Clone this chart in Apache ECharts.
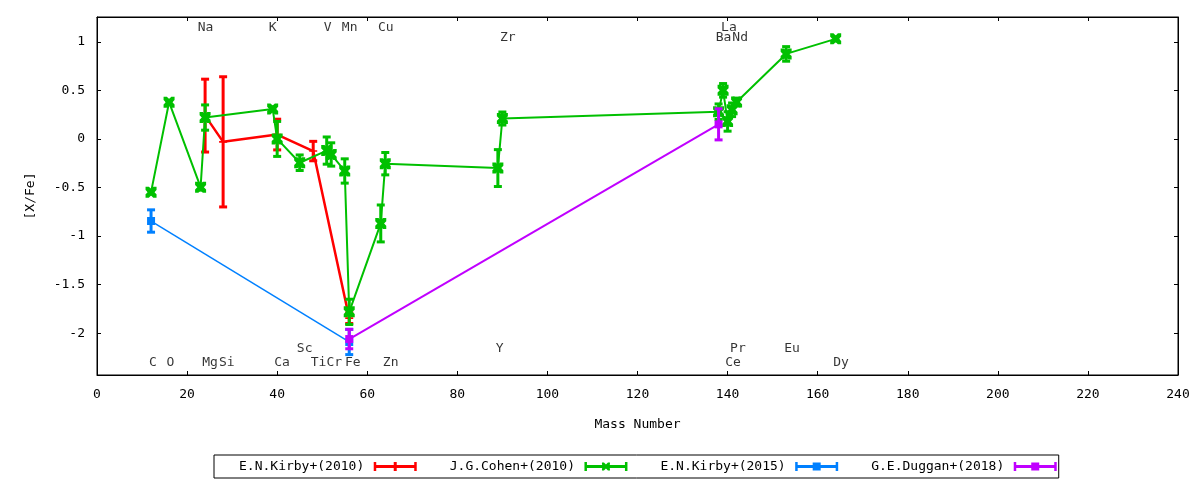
<!DOCTYPE html>
<html>
<head>
<meta charset="utf-8">
<script src="https://cdn.jsdelivr.net/npm/echarts@6/dist/echarts.min.js"></script>
<style>
html,body{margin:0;padding:0;background:#fff;}
#chart{width:1200px;height:480px;}
</style>
</head>
<body>
<div id="chart"></div>
<script>
// ---------- data ----------
const seriesNames = ['E.N.Kirby+(2010)', 'J.G.Cohen+(2010)', 'E.N.Kirby+(2015)', 'G.E.Duggan+(2018)'];

// E.N.Kirby+(2010): Mg, Si, Ca, Ti, Fe
const kirby10X   = [24, 28, 40, 48, 56];
const kirby10Y   = [0.24, -0.03, 0.045, -0.125, -1.845];
const kirby10Err = [0.375, 0.67, 0.158, 0.10, 0.055];

// J.G.Cohen+(2010): C O Na Mg K Ca Sc V Cr Mn Fe Cu Zn Y Zr Ba La Ce Pr Nd Eu Dy
const cohenX   = [12, 16, 23, 24, 39, 40, 45, 51, 52, 55, 56, 63, 64, 89, 90, 138, 139, 140, 141, 142, 153, 164];
const cohenY   = [-0.548, 0.378, -0.497, 0.22, 0.309, 0.0, -0.245, -0.12, -0.16, -0.33, -1.78, -0.87, -0.255, -0.30, 0.21, 0.28, 0.50, 0.18, 0.30, 0.38, 0.875, 1.03];
const cohenErr = [0.02, 0.02, 0.03, 0.13, 0.02, 0.18, 0.08, 0.14, 0.12, 0.125, 0.13, 0.19, 0.115, 0.19, 0.067, 0.08, 0.07, 0.10, 0.07, 0.04, 0.075, 0.02];

// E.N.Kirby+(2015): C, Fe
const kirby15X   = [12, 56];
const kirby15Y   = [-0.845, -2.09];
const kirby15Err = [0.115, 0.13];

// G.E.Duggan+(2018): Fe, Ba
const dugganX   = [56, 138];
const dugganY   = [-2.06, 0.15];
const dugganErr = [0.10, 0.16];

// element labels
const elemNames = ['Na','K','V','Mn','Cu','La', 'Zr','Ba','Nd', 'Sc','Y','Pr','Eu',
                   'C','O','Mg','Si','Ca','Ti','Cr','Fe','Zn','Ce','Dy'];
const elemX = [24.1, 39, 51.2, 56.1, 64.1, 140.3, 91.2, 139.1, 142.8, 46.1, 89.4, 142.3, 154.3,
               12.4, 16.3, 25.1, 28.8, 41.1, 49.2, 52.7, 56.8, 65.2, 141.2, 165.2];
const elemY = [1.15, 1.15, 1.15, 1.15, 1.15, 1.15, 1.04, 1.04, 1.04, -2.16, -2.16, -2.16, -2.16,
               -2.305, -2.305, -2.305, -2.305, -2.305, -2.305, -2.305, -2.305, -2.305, -2.305, -2.305];

const yTicks = [-2, -1.5, -1, -0.5, 0, 0.5, 1];

// ---------- style ----------
const FONT = 'DejaVu Sans Mono';
const colors = ['#ff0000', '#00c000', '#0080ff', '#c000ff'];
const lineWidths = [2.5, 2, 1.5, 2];
const markerPlus = 'path://M4 0H6V10H4Z M0 4H10V6H0Z';
const markerX = 'path://M0 0H3L5 2L7 0H10V3L8 5L10 7V10H7L5 8L3 10H0V7L2 5L0 3Z';
const symbols = [markerPlus, markerX, 'rect', 'rect'];
const symbolSizes = [8, 11, 8, 8];

const iconBase = 'M0 6H86V12H0Z M0 0H5V18H0Z M81 0H86V18H81Z ';
const legendIcons = [
  'path://' + iconBase + 'M40 0H46V18H40Z',
  'path://' + iconBase + 'M35 1H39L43 5L47 1H51V5L47 9L51 13V17H47L43 13L39 17H35V13L39 9L35 5Z',
  'path://' + iconBase + 'M35 1H51V17H35Z',
  'path://' + iconBase + 'M35 1H51V17H35Z'
];

function zip3(xs, ys, es) { return xs.map((x, i) => [x, ys[i], es[i]]); }
const sets = [
  zip3(kirby10X, kirby10Y, kirby10Err),
  zip3(cohenX, cohenY, cohenErr),
  zip3(kirby15X, kirby15Y, kirby15Err),
  zip3(dugganX, dugganY, dugganErr)
];

function makeErrRender(color) {
  return function (params, api) {
    const x = api.value(0), y = api.value(1), e = api.value(2);
    const t = api.coord([x, y + e]);
    const b = api.coord([x, y - e]);
    const hw = 4;
    const st = { stroke: color, lineWidth: 3 };
    return {
      type: 'group',
      children: [
        { type: 'line', shape: { x1: t[0], y1: t[1], x2: b[0], y2: b[1] }, style: st },
        { type: 'line', shape: { x1: t[0] - hw, y1: t[1], x2: t[0] + hw, y2: t[1] }, style: st },
        { type: 'line', shape: { x1: b[0] - hw, y1: b[1], x2: b[0] + hw, y2: b[1] }, style: st }
      ]
    };
  };
}

const series = [];
sets.forEach((data, i) => {
  series.push({
    name: seriesNames[i],
    type: 'custom',
    renderItem: makeErrRender(colors[i]),
    data: data,
    encode: { x: 0, y: 1 },
    z: 2 + i * 2,
    silent: true,
    itemStyle: { color: colors[i] }
  });
  series.push({
    name: seriesNames[i],
    type: 'line',
    data: data.map(d => [d[0], d[1]]),
    symbol: symbols[i],
    symbolSize: symbolSizes[i],
    showSymbol: true,
    showAllSymbol: true,
    lineStyle: { color: colors[i], width: lineWidths[i] },
    itemStyle: { color: colors[i], borderWidth: 0 },
    z: 3 + i * 2,
    silent: true
  });
});

series.push({
  type: 'scatter',
  name: 'elements',
  data: elemNames.map((n, i) => ({ name: n, value: [elemX[i], elemY[i]] })),
  symbolSize: 0,
  silent: true,
  z: 20,
  label: {
    show: true,
    position: 'inside',
    formatter: p => p.name,
    color: '#000',
    fontFamily: FONT,
    fontSize: 13,
    align: 'center',
    verticalAlign: 'middle'
  }
});

const axisTextStyle = { color: '#000', fontFamily: FONT, fontSize: 13 };
const axLine = { show: true, onZero: false, lineStyle: { color: '#000', width: 1 } };

const option = {
  animation: false,
  backgroundColor: '#fff',
  grid: { left: 97, right: 22, top: 17, bottom: 105, show: true, borderColor: '#000', borderWidth: 1, containLabel: false },
  legend: {
    data: seriesNames.map((n, i) => ({ name: n, icon: legendIcons[i] })),
    left: 214,
    top: 455,
    orient: 'horizontal',
    align: 'right',
    itemWidth: 44,
    itemHeight: 9,
    itemGap: 33,
    padding: [5, 2, 5, 25],
    borderColor: '#000',
    borderWidth: 1,
    borderRadius: 0,
    selectedMode: false,
    textStyle: { color: '#000', fontFamily: FONT, fontSize: 13, padding: [0, 4, 0, 0] },
    itemStyle: { borderWidth: 0 },
    lineStyle: { width: 0 }
  },
  xAxis: [
    {
      type: 'value', min: 0, max: 240, interval: 20, position: 'bottom',
      name: 'Mass Number', nameLocation: 'middle', nameGap: 43,
      nameTextStyle: axisTextStyle,
      axisLine: axLine,
      axisTick: { show: true, inside: true, length: 4, lineStyle: { color: '#000' } },
      axisLabel: { show: true, margin: 13, ...axisTextStyle },
      splitLine: { show: false }
    },
    {
      type: 'value', min: 0, max: 240, interval: 20, position: 'top',
      axisLine: axLine,
      axisTick: { show: true, inside: true, length: 4, lineStyle: { color: '#000' } },
      axisLabel: { show: false },
      splitLine: { show: false }
    }
  ],
  yAxis: [
    {
      type: 'value', min: -2.43, max: 1.255, position: 'left',
      name: '[X/Fe]', nameLocation: 'middle', nameGap: 60, nameRotate: 90,
      nameTextStyle: axisTextStyle,
      axisLine: axLine,
      axisTick: { show: true, inside: true, length: 4, customValues: yTicks, lineStyle: { color: '#000' } },
      axisLabel: { show: true, margin: 12, customValues: yTicks, ...axisTextStyle },
      splitLine: { show: false }
    },
    {
      type: 'value', min: -2.43, max: 1.255, position: 'right',
      axisLine: axLine,
      axisTick: { show: true, inside: true, length: 4, customValues: yTicks, lineStyle: { color: '#000' } },
      axisLabel: { show: false, customValues: yTicks },
      splitLine: { show: false }
    }
  ],
  series: series
};

const chart = echarts.init(document.getElementById('chart'), null, { renderer: 'canvas' });
chart.setOption(option);
</script>
</body>
</html>
